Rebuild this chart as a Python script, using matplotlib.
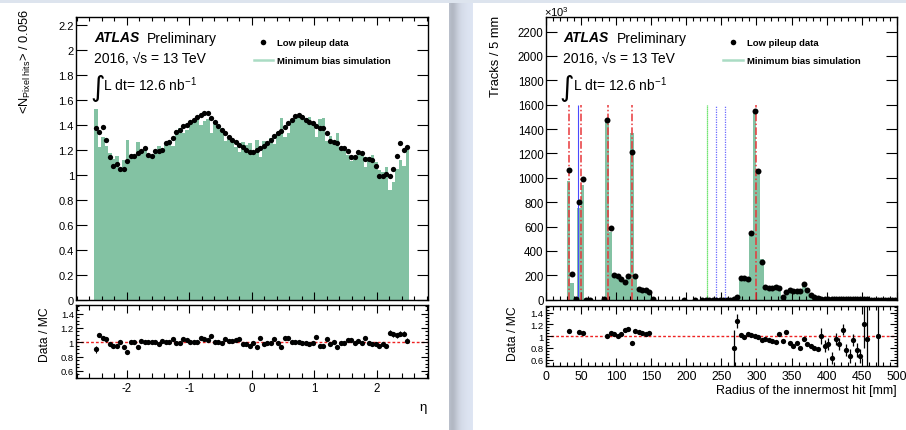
import numpy as np
import matplotlib
matplotlib.use("Agg")
import matplotlib.pyplot as plt
from matplotlib.patches import Rectangle
from matplotlib.lines import Line2D
from matplotlib.ticker import MultipleLocator, FuncFormatter, NullLocator

plt.rcParams['font.family'] = ['Liberation Sans', 'DejaVu Sans']
plt.rcParams['mathtext.fontset'] = 'custom'
plt.rcParams['mathtext.rm'] = 'Liberation Sans'
plt.rcParams['mathtext.it'] = 'Liberation Sans:italic'
plt.rcParams['mathtext.bf'] = 'Liberation Sans:bold'

# ---------------- pseudorapidity distribution (90 bins of 0.056) ----------------
eta_lo, eta_hi, eta_nbins = -2.52, 2.52, 90

eta_data = [1.37, 1.34, 1.38, 1.28, 1.14, 1.07, 1.09, 1.05, 1.05, 1.11,
            1.15, 1.15, 1.17, 1.19, 1.21, 1.16, 1.15, 1.19, 1.19, 1.20,
            1.25, 1.26, 1.29, 1.34, 1.36, 1.39, 1.40, 1.42, 1.44, 1.46,
            1.48, 1.49, 1.49, 1.45, 1.42, 1.39, 1.36, 1.33, 1.30, 1.28,
            1.26, 1.24, 1.22, 1.20, 1.18, 1.18, 1.20, 1.21, 1.23, 1.25,
            1.28, 1.31, 1.33, 1.35, 1.38, 1.41, 1.44, 1.47, 1.48, 1.46,
            1.44, 1.42, 1.41, 1.39, 1.37, 1.37, 1.33, 1.27, 1.26, 1.25,
            1.21, 1.21, 1.19, 1.14, 1.14, 1.18, 1.17, 1.13, 1.13, 1.12,
            1.07, 0.99, 0.99, 1.01, 0.99, 1.05, 1.15, 1.25, 1.20, 1.22]

eta_mc = [1.522, 1.218, 1.302, 1.231, 1.175, 1.126, 1.147, 1.050, 1.117, 1.276,
          1.139, 1.139, 1.258, 1.178, 1.210, 1.160, 1.150, 1.190, 1.227, 1.188,
          1.238, 1.260, 1.229, 1.354, 1.374, 1.337, 1.359, 1.406, 1.440, 1.446,
          1.396, 1.433, 1.447, 1.330, 1.420, 1.390, 1.374, 1.267, 1.287, 1.267,
          1.223, 1.181, 1.258, 1.237, 1.255, 1.192, 1.277, 1.142, 1.268, 1.263,
          1.293, 1.248, 1.343, 1.452, 1.302, 1.330, 1.426, 1.470, 1.480, 1.475,
          1.455, 1.464, 1.424, 1.299, 1.442, 1.457, 1.267, 1.309, 1.248, 1.330,
          1.222, 1.222, 1.155, 1.107, 1.152, 1.168, 1.182, 1.066, 1.141, 1.155,
          1.103, 1.042, 1.021, 1.063, 0.876, 0.946, 1.045, 1.116, 1.071, 1.196]

eta_ratio_err = [0.05, 0.03, 0.03, 0.03] + [0.02] * 80 + [0.035] * 6

# ---------------- radius of innermost hit (100 bins of 5 mm, x10^3 tracks) ----------------
nan = np.nan
r_lo, r_hi, r_nbins = 0.0, 500.0, 100

r_data = ([nan] * 6 +
          [1066, 208, 2, 798, 989, 1, 1, nan, nan, nan, 2] +
          [1476, 585, 202, 191, 169, 148, 197, 1215, 197, 87, 82, 77, 66, 3] +
          [nan] * 8 + [1, nan, nan, 1, nan] + [1] * 9 + [3, 20] +
          [175, 182, 166, 544, 1545, 1053, 312, 102, 96, 96, 107, 96, 25,
           66, 80, 74, 68, 68, 131, 82, 38, 19, 11, 6, 5, 5, 4, 4, 4,
           3, 3, 3, 3, 2, 2, 2, 2] +
          [1.5] * 8)

r_mc = ([0] * 6 +
        [976, 134, 0, 749, 943, 0, 0, 0, 0, 0, 0] +
        [1465, 556, 196, 191, 164, 135, 176, 1365, 182, 81.5, 77.6, 74, 63, 0] +
        [0] * 22 + [3.75, 16] +
        [171.6, 184, 159, 533, 1530, 1075, 335, 107, 103, 105, 118, 92, 27,
         62, 91, 88, 77, 85, 137, 94, 46, 24, 14, 6, 6, 5.8, 6.3, 4.2, 4.65,
         2.7, 3.95, 4.5, 3.2, 2.6, 3.0, 1.67, 2.1] +
        [0, 0, 1.5, 0, 0, 0, 0, 0])

r_ratio_err = ([0.01] * 53 + [0.30, 0.12] + [0.015] * 12 + [0.03] * 11 +
               [0.14, 0.10, 0.10, 0.10, 0.10, 0.10, 0.10, 0.10, 0.12, 0.10, 0.12, 0.12] +
               [0.40, 0.70, 0.0, 0.0, 0.70, 0.0, 0.0, 0.0, 0.0, 0.0])

# detector layer positions [mm]
layers_red = [33.25, 50.5, 88.5, 122.5, 299.0]
layers_blue_solid = [45.5]
layers_blue = [242.0, 255.0]
layers_green = [229.0]

# ---------------- styling ----------------
W, H = 906, 431
MC_GREEN = '#83c2a3'
LEG_GREEN = '#aadcc4'
BG = '#dde4ee'


def fx(px):
    return px / W


def fy(py):
    return 1 - py / H


def fmt_g(v, pos):
    return f'{round(v, 6):g}'


def root_axes(ax, xlen, ylen, xminor=True, yminor=True, xlabsize=8, ylabsize=8):
    for s in ax.spines.values():
        s.set_linewidth(1.0)
    ax.tick_params(which='both', direction='in', top=True, right=True, width=0.8)
    ax.tick_params(axis='x', which='major', length=xlen[0], labelsize=xlabsize, pad=3)
    ax.tick_params(axis='x', which='minor', length=xlen[1])
    ax.tick_params(axis='y', which='major', length=ylen[0], labelsize=ylabsize, pad=1.5)
    ax.tick_params(axis='y', which='minor', length=ylen[1])
    if not xminor:
        ax.xaxis.set_minor_locator(NullLocator())
    if not yminor:
        ax.yaxis.set_minor_locator(NullLocator())
    ax.xaxis.set_major_formatter(FuncFormatter(fmt_g))
    ax.yaxis.set_major_formatter(FuncFormatter(fmt_g))


fig = plt.figure(figsize=(W / 100, H / 100), dpi=100)
fig.patch.set_facecolor(BG)

# white panels and the shadow between them
fig.add_artist(Rectangle((0, 0), fx(449), fy(4), transform=fig.transFigure,
                         facecolor='white', edgecolor='none', zorder=-10))
fig.add_artist(Rectangle((fx(473), 0), 1 - fx(473), fy(4), transform=fig.transFigure,
                         facecolor='white', edgecolor='none', zorder=-10))
sh = fig.add_axes([fx(449), 0, fx(24), fy(4)], zorder=-9)
grad = np.array([[0.76, 0.72, 0.74, 0.78, 0.82, 0.85, 0.87, 0.88, 0.89, 0.90, 0.90, 0.91]])
cols = np.stack([grad * 0.96, grad * 0.99, grad * 1.05], axis=-1).clip(0, 1)
sh.imshow(cols, aspect='auto', interpolation='bicubic', extent=(0, 1, 0, 1))
sh.set_axis_off()

# ================= left: eta =================
eta_edges = np.linspace(eta_lo, eta_hi, eta_nbins + 1)
eta_cent = 0.5 * (eta_edges[:-1] + eta_edges[1:])
eta_data_a = np.array(eta_data)
eta_mc_a = np.array(eta_mc)
eta_ratio = eta_data_a / eta_mc_a

axL = fig.add_axes([fx(76), fy(301), fx(352), 283 / H])
axL.stairs(eta_mc_a, eta_edges, fill=True, color=MC_GREEN, linewidth=0)
axL.plot(eta_cent, eta_data_a, 'o', color='black', ms=3.8, mew=0)
axL.set_xlim(-2.81, 2.82)
axL.set_ylim(0, 2.26)
axL.xaxis.set_major_locator(MultipleLocator(1))
axL.xaxis.set_minor_locator(MultipleLocator(0.2))
axL.yaxis.set_major_locator(MultipleLocator(0.2))
root_axes(axL, (6, 3), (8, 0), yminor=False)
axL.tick_params(axis='x', labelbottom=False)

axLr = fig.add_axes([fx(76), fy(379), fx(352), 73 / H])
axLr.axhline(1.0, color='#ee2222', lw=1.0, ls=(0, (2, 1.5)), zorder=1)
axLr.errorbar(eta_cent, eta_ratio, yerr=eta_ratio_err, fmt='o', color='black',
              ms=3.8, mew=0, elinewidth=0.8, capsize=0, zorder=3)
axLr.set_xlim(-2.81, 2.82)
axLr.set_ylim(0.5, 1.52)
axLr.xaxis.set_major_locator(MultipleLocator(1))
axLr.xaxis.set_minor_locator(MultipleLocator(0.2))
axLr.yaxis.set_major_locator(MultipleLocator(0.2))
axLr.yaxis.set_minor_locator(MultipleLocator(0.05))
root_axes(axLr, (6, 3.5), (5, 2.5), xlabsize=8.3, ylabsize=6.8)

# ================= right: radius =================
r_edges = np.linspace(r_lo, r_hi, r_nbins + 1)
r_cent = 0.5 * (r_edges[:-1] + r_edges[1:])
r_data_a = np.array(r_data, dtype=float)
r_mc_a = np.array(r_mc, dtype=float)
with np.errstate(divide='ignore', invalid='ignore'):
    r_ratio = np.where((r_mc_a > 0) & np.isfinite(r_data_a), r_data_a / r_mc_a, np.nan)
r_err = np.array(r_ratio_err)

axR = fig.add_axes([fx(545.7), fy(300.7), fx(351.3), 282.7 / H])
axR.stairs(r_mc_a, r_edges, fill=True, color=MC_GREEN, linewidth=0, zorder=1)
axR.vlines(layers_red, 0, 1600, colors='#e8383a', lw=1.1, ls=(0, (5, 1.5, 1, 1.5)), zorder=2)
axR.vlines(layers_blue_solid, 0, 1600, colors='#4a4aff', lw=0.8, zorder=2)
axR.vlines(layers_blue, 0, 1600, colors='#6a6aff', lw=0.9, ls=(0, (1, 1)), zorder=2)
axR.vlines(layers_green, 0, 1600, colors='#44dd44', lw=0.9, ls=(0, (1, 0.6)), zorder=2)
axR.plot(r_cent, r_data_a, 'o', color='black', ms=4.3, mew=0, zorder=3)
axR.set_xlim(0, 500)
axR.set_ylim(0, 2320)
axR.xaxis.set_major_locator(MultipleLocator(50))
axR.xaxis.set_minor_locator(MultipleLocator(10))
axR.yaxis.set_major_locator(MultipleLocator(200))
root_axes(axR, (6, 3), (8, 0), yminor=False, ylabsize=8.3)
axR.tick_params(axis='x', labelbottom=False)

axRr = fig.add_axes([fx(545.7), fy(366.7), fx(351.3), 59.7 / H])
axRr.axhline(1.0, color='#ee2222', lw=1.0, ls=(0, (2, 1.5)), zorder=1)
m = np.isfinite(r_ratio)
axRr.errorbar(r_cent[m], r_ratio[m], yerr=r_err[m], fmt='o', color='black',
              ms=3.8, mew=0, elinewidth=0.9, capsize=0, zorder=3)
axRr.set_xlim(0, 500)
axRr.set_ylim(0.5, 1.51)
axRr.xaxis.set_major_locator(MultipleLocator(50))
axRr.xaxis.set_minor_locator(MultipleLocator(10))
axRr.yaxis.set_major_locator(MultipleLocator(0.2))
axRr.yaxis.set_minor_locator(MultipleLocator(0.05))
root_axes(axRr, (5.5, 3), (5, 2.5), xlabsize=8.8, ylabsize=6.8)

# ================= labels and annotations =================
fig.text(fx(25), fy(9), r'<N$_{\mathrm{Pixel\ hits}}$> / 0.056', rotation=90,
         ha='center', va='top', fontsize=9.3)
fig.text(fx(45), fy(307), 'Data / MC', rotation=90, ha='center', va='top', fontsize=8.7)
fig.text(fx(423), fy(408), 'η', ha='center', va='center', fontsize=9.5)

fig.text(fx(496), fy(16), 'Tracks / 5 mm', rotation=90, ha='center', va='top', fontsize=9.3)
fig.text(fx(513), fy(306), 'Data / MC', rotation=90, ha='center', va='top', fontsize=8.7)
fig.text(fx(897), fy(391), 'Radius of the innermost hit [mm]', ha='right', va='center',
         fontsize=9)
fig.text(fx(544), fy(12), r'$\times$10$^{3}$', ha='left', va='center', fontsize=8)


def atlas_block(x0, x_prelim, x_int, x_ldt):
    fig.text(fx(x0), fy(42.5), 'ATLAS', fontsize=10, fontweight='bold',
             fontstyle='italic', va='baseline')
    fig.text(fx(x_prelim), fy(42.5), 'Preliminary', fontsize=10, va='baseline')
    fig.text(fx(x0), fy(63), '2016, √s = 13 TeV', fontsize=10, va='baseline')
    fig.text(fx(x_int), fy(88), '∫', fontsize=20, va='center', ha='left',
             family=['DejaVu Sans'])
    fig.text(fx(x_ldt), fy(91), r'L dt= 12.6 nb$^{\mathregular{-1}}$', fontsize=10,
             va='baseline')


def legend_block(x_mark, x_line0, x_line1, x_text):
    fig.add_artist(Line2D([fx(x_mark)], [fy(43)], marker='o', color='black', ms=4,
                          mew=0, ls='none', transform=fig.transFigure))
    fig.text(fx(x_text), fy(43), 'Low pileup data', fontsize=6.8, fontweight='bold',
             va='center')
    fig.add_artist(Line2D([fx(x_line0), fx(x_line1)], [fy(61), fy(61)],
                          color=LEG_GREEN, lw=1.8, transform=fig.transFigure))
    fig.text(fx(x_text), fy(61), 'Minimum bias simulation', fontsize=6.8,
             fontweight='bold', va='center')


atlas_block(94, 147, 90, 103)
legend_block(263.3, 254, 272.5, 276.7)
atlas_block(563.3, 616.7, 559, 572.7)
legend_block(733.3, 723.3, 742.7, 746.7)

fig.savefig('out.png', dpi=100, facecolor=fig.get_facecolor())
